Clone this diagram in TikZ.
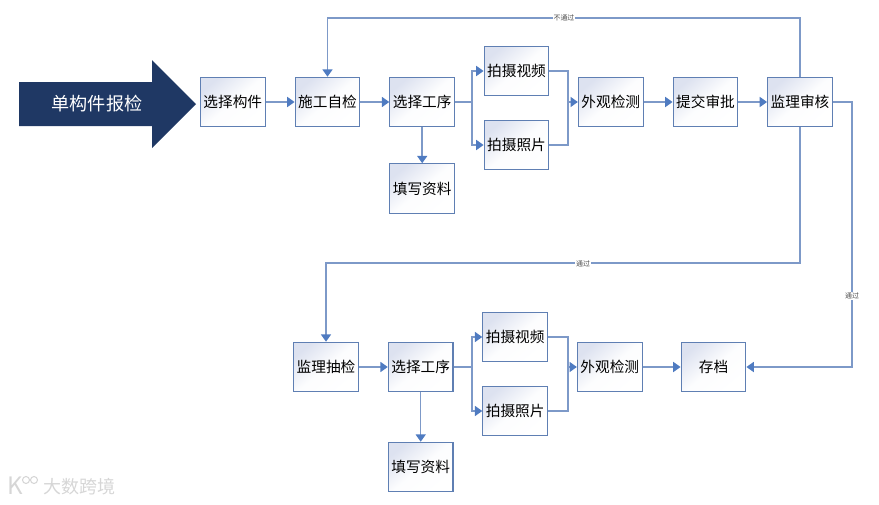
\documentclass[tikz,border=0pt]{standalone}
\usepackage{fontspec}
\setmainfont{Noto Sans CJK SC}
\usepackage{tikz}
\usetikzlibrary{arrows.meta}
\newcommand{\linecolor}{linkblue}
\newcommand{\boxfont}{\fontsize{11pt}{12pt}\selectfont}
\definecolor{linkblue}{HTML}{7D99C8}
\definecolor{tipblue}{HTML}{4F7BC1}
\definecolor{edgeblue}{HTML}{5F7FB3}
\definecolor{shadeblue}{HTML}{DDE2F0}
\definecolor{navy}{HTML}{1F3864}
\tikzset{
stepbox/.style={draw=edgeblue, line width=0.9pt, top color=shadeblue, bottom color=white, middle color=white!92!shadeblue, shading angle=40, minimum width=48.5pt, minimum height=37pt, inner sep=0pt, font=\boxfont, text=black},
flow/.style={draw=\linecolor, line width=1.1pt},
flowtip/.style={flow, -{Triangle[length=5.5pt, width=7.5pt, color=tipblue]}},
passlabel/.style={fill=white, inner sep=0.6pt, font=\fontsize{5.2pt}{6pt}\selectfont, text=black!70}
}

\begin{document}
\begin{tikzpicture}[x=0.75pt, y=-0.75pt]
\useasboundingbox (0, 0) rectangle (879, 504);
%start arrow
\fill[navy] (19, 82) -- (152, 82) -- (152, 60) -- (196, 104) -- (152, 148) -- (152, 126) -- (19, 126) -- cycle;
\node[text=white, font=\fontsize{13.6pt}{15pt}\selectfont] (start) at (97, 104) {单构件报检};
%upper row
\node[stepbox] (pick) at (232.8, 102) {选择构件};
\node[stepbox] (self) at (327.5, 102) {施工自检};
\node[stepbox] (sel1) at (422.2, 102) {选择工序};
\node[stepbox] (form1) at (422.2, 188.5) {填写资料};
\node[stepbox] (video1) at (516.5, 71) {拍摄视频};
\node[stepbox] (photo1) at (516.5, 145) {拍摄照片};
\node[stepbox] (look1) at (610.8, 102) {外观检测};
\node[stepbox] (submit) at (705.5, 102) {提交审批};
\node[stepbox] (review) at (800, 102) {监理审核};
%lower row
\node[stepbox] (spot) at (326, 367) {监理抽检};
\node[stepbox] (sel2) at (420.7, 367) {选择工序};
\node[stepbox] (form2) at (420.7, 467) {填写资料};
\node[stepbox] (video2) at (515.2, 337) {拍摄视频};
\node[stepbox] (photo2) at (515.2, 411) {拍摄照片};
\node[stepbox] (look2) at (609.8, 367) {外观检测};
\node[stepbox] (store) at (713.5, 367) {存档};
%junctions and bends
\coordinate (split1) at (472, 102);
\coordinate (merge1) at (568, 102);
\coordinate (split2) at (472, 367);
\coordinate (merge2) at (568, 367);
\coordinate (topbend) at (800, 18);
\coordinate (midbend) at (800, 263);
\coordinate (sidebend) at (852, 102);
%upper connectors
\draw[flowtip] (pick) -- (self);
\draw[flowtip] (self) -- (sel1);
\draw[flowtip] (sel1) -- (form1);
\draw[flow] (sel1) -- (split1);
\draw[flowtip] (split1) |- (video1);
\draw[flowtip] (split1) |- (photo1);
\draw[flow] (video1) -| (merge1);
\draw[flow] (photo1) -| (merge1);
\draw[flowtip] (merge1) -- (look1);
\draw[flowtip] (look1) -- (submit);
\draw[flowtip] (submit) -- (review);
\draw[flowtip] (review) -- (topbend) -| (self);
\draw[flowtip] (review) -- (midbend) -| (spot);
\draw[flowtip] (review) -- (sidebend) |- (store);
%lower connectors
\draw[flowtip] (spot) -- (sel2);
\draw[flowtip] (sel2) -- (form2);
\draw[flow] (sel2) -- (split2);
\draw[flowtip] (split2) |- (video2);
\draw[flowtip] (split2) |- (photo2);
\draw[flow] (video2) -| (merge2);
\draw[flow] (photo2) -| (merge2);
\draw[flowtip] (merge2) -- (look2);
\draw[flowtip] (look2) -- (store);
%labels on the lines
\node[passlabel] (fail) at (564, 18) {不通过};
\node[passlabel] (passmid) at (583, 263.5) {通过};
\node[passlabel] (passside) at (852, 296) {通过};
%mark in the corner
\node[text=black!16, font=\fontsize{13.5pt}{15pt}\selectfont] (markname) at (79, 487) {大数跨境};
\node[text=black!16, font=\fontsize{18pt}{19pt}\selectfont] (markk) at (15, 486) {K};
\draw[black!16, line width=0.8pt] (26, 480) circle (3.5);
\draw[black!16, line width=0.8pt] (34, 480) circle (3.5);
\end{tikzpicture}
\end{document}
